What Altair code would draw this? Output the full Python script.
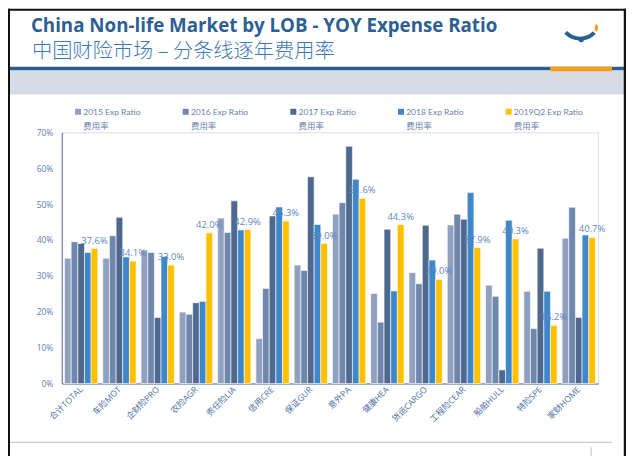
import altair as alt
import pandas as pd

categories = ["合计TOTAL", "车险MOT", "企财险PRO", "农险AGR", "责任险LIA", "信用CRE", "保证GUR",
              "意外PA", "健康HEA", "货运CARGO", "工程险CEAR", "船舶HULL", "特险SPE", "家财HOME"]
series = ["2015 Exp Ratio", "2016 Exp Ratio", "2017 Exp Ratio", "2018 Exp Ratio", "2019Q2 Exp Ratio"]
colors = ["#8fa1bf", "#7087ad", "#4e6890", "#3f87cb", "#ffc000"]

v2015 = [34.9, 34.9, 37.2, 19.9, 46.1, 12.5, 33.0, 47.2, 25.1, 30.9, 44.2, 27.4, 25.7, 40.5]
v2016 = [39.5, 41.2, 36.5, 19.3, 42.1, 26.5, 31.5, 50.4, 17.1, 27.8, 47.2, 24.3, 15.3, 49.1]
v2017 = [39.0, 46.3, 18.4, 22.5, 50.9, 46.7, 57.6, 66.1, 43.0, 44.1, 45.8, 3.8, 37.7, 18.4]
v2018 = [36.5, 35.3, 35.4, 22.9, 42.8, 49.2, 44.3, 56.9, 25.8, 34.4, 53.2, 45.5, 25.7, 41.4]
v2019 = [37.6, 34.1, 33.0, 42.0, 42.9, 45.3, 39.0, 51.6, 44.3, 29.0, 37.9, 40.3, 16.2, 40.7]

title_en = "China Non-life Market by LOB - YOY Expense Ratio"
title_cn = "中国财险市场 – 分条线逐年费用率"
legend_sub = "费用率"
y_ticks = [0, 0.1, 0.2, 0.3, 0.4, 0.5, 0.6, 0.7]

rows = []
for s, vals in zip(series, [v2015, v2016, v2017, v2018, v2019]):
    for c, v in zip(categories, vals):
        rows.append({"cat": c, "series": s, "value": v / 100.0})
df = pd.DataFrame(rows)
lab = df[df["series"] == series[-1]]

FONT = "Open Sans, Noto Sans CJK SC"
LFONT = "Lato, Noto Sans CJK SC"
one = pd.DataFrame({"k": [0]})

x_enc = alt.X("cat:N", sort=categories,
              scale=alt.Scale(paddingInner=0.13, paddingOuter=0.07),
              axis=alt.Axis(title=None, labelAngle=-45, labelAlign="right", labelBaseline="middle",
                            labelFontSize=8.5, labelColor="#4f72a3", labelPadding=4, ticks=False,
                            domainColor="#8497b5", domainWidth=1.5, labelFont=FONT))
y_enc = alt.Y("value:Q", scale=alt.Scale(domain=[0, 0.7]),
              axis=alt.Axis(title=None, format=".0%", values=y_ticks,
                            grid=False, ticks=False, labelFontSize=8.5, labelColor="#5a7eaf",
                            labelOverlap=False,
                            labelPadding=9, domainColor="#8497b5", domainWidth=1.5, labelFont=FONT))

bars = alt.Chart(df).mark_bar(stroke="white", strokeWidth=0.6).encode(
    x=x_enc,
    y=y_enc,
    xOffset=alt.XOffset("series:N", sort=series),
    color=alt.Color("series:N", sort=series, scale=alt.Scale(domain=series, range=colors),
                    legend=alt.Legend(title=None, orient="none", legendX=12, legendY=-25,
                                      direction="horizontal", columns=5, gridAlign="all",
                                      columnPadding=29, symbolType="square", symbolSize=36,
                                      symbolStrokeWidth=0, labelFontSize=8.5, labelColor="#6a82a8",
                                      labelFont=LFONT, labelBaseline="middle", labelOffset=1,
                                      labelExpr="[datum.label, '" + legend_sub + "']",
                                      labelLimit=200)),
)

labels = alt.Chart(lab).mark_text(dy=-8, fontSize=9.5, color="#6089bd", font=FONT).encode(
    x=x_enc,
    xOffset=alt.XOffset("series:N", sort=series),
    y=y_enc,
    text=alt.Text("value:Q", format=".1%"),
)

def rule(x, x2, y, y2, color, w):
    return alt.Chart(one).mark_rule(color=color, strokeWidth=w).encode(
        x=alt.value(x), x2=alt.value(x2), y=alt.value(y), y2=alt.value(y2))

band = alt.Chart(one).mark_rect(color="#d5dce6").encode(
    x=alt.value(-52), x2=alt.value(565), y=alt.value(-62), y2=alt.value(-38))
blue_line = rule(-54, 566, -64, -64, "#2a5d8f", 3.5)
orange_line = rule(490, 552, -63.5, -63.5, "#f7a11a", 4.5)
frame_l = rule(-53, -53, -124, 330, "#111111", 2)
frame_r = rule(565, 565, -124, 330, "#111111", 2.5)
frame_t = rule(-54, 566, -123, -123, "#111111", 2)
bottom_line = rule(-52, 552, 311, 311, "#c0c0c0", 1)
vert_line = rule(531, 531, 316, 330, "#c0c0c0", 1)

t1 = alt.Chart(one).mark_text(text=title_en, align="left", baseline="alphabetic", fontSize=18.8,
                              fontWeight="bold", color="#2d5f94", font=FONT).encode(
    x=alt.value(-31), y=alt.value(-101))
t2 = alt.Chart(one).mark_text(text=title_cn, align="left", baseline="alphabetic", fontSize=20.3,
                              fontWeight=300, color="#3d79b6", font="Noto Sans CJK SC").encode(
    x=alt.value(-30), y=alt.value(-75))

swoosh = alt.Chart(one).mark_arc(color="#2a6096", theta=2.35, theta2=3.95, radius=22, radius2=18).encode(
    x=alt.value(520), y=alt.value(-114))
dot = alt.Chart(one).mark_point(filled=True, color="#2a6096", size=30, opacity=1).encode(
    x=alt.value(521), y=alt.value(-93))
flame = alt.Chart(one).mark_point(filled=True, color="#f7a11a", size=70, opacity=1,
                                  shape="M0,-1 C0.7,-0.3 0.5,0.7 0,1 C-0.5,0.6 -0.5,-0.1 0,-1 Z").encode(
    x=alt.value(536), y=alt.value(-105))

chart = alt.layer(band, blue_line, orange_line, frame_l, frame_r, frame_t, bottom_line, vert_line,
                  t1, t2, swoosh, dot, flame, bars, labels).properties(
    width=538, height=252,
    autosize=alt.AutoSizeParams(type="none"),
    padding={"left": 54, "top": 124, "right": 28, "bottom": 72},
    background="white",
).configure_view(stroke=None).configure(style={"guide-label": {"lineHeight": 14}})

chart.save("out.html", embed_options={"renderer": "svg", "actions": False})
